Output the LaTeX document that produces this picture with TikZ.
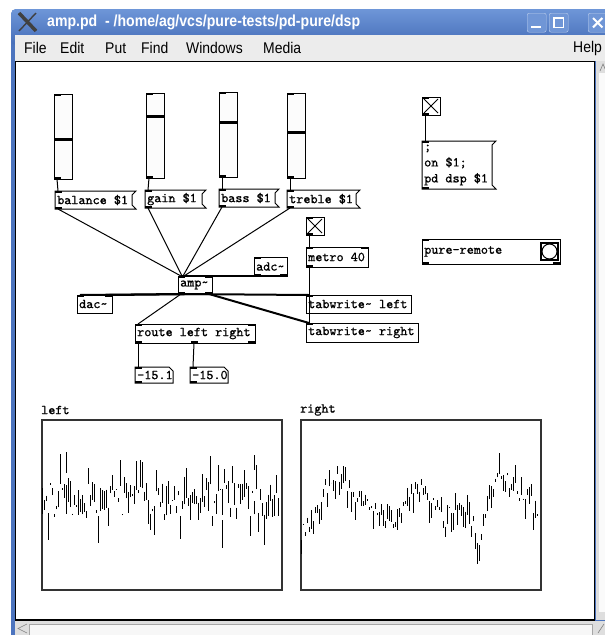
\documentclass[tikz,border=0pt]{standalone}
\usepackage{fontspec}
\setmainfont{Liberation Sans}
\newfontfamily\pdff{lmmono10-regular.otf}[FakeBold=0.9]
\usetikzlibrary{calc}
\definecolor{tbtop}{RGB}{110,150,216}
\definecolor{tbbot}{RGB}{70,110,184}
\definecolor{winblue}{RGB}{76,116,190}
\definecolor{menubg}{RGB}{236,236,236}
\definecolor{sbar}{RGB}{222,222,222}
\definecolor{btnblue}{RGB}{112,150,214}
\newcommand\pdf{\pdff\fontsize{13.5}{16}\selectfont}
\tikzset{
  pdobj/.style={draw, line width=1pt, fill=white, anchor=north west, inner sep=0pt, outer sep=0pt},
  pdmsg/.style={fill=white, anchor=north west, inner sep=0pt, outer sep=0pt},
  pdlabel/.style={anchor=west, inner sep=0pt, font=\pdf, align=left},
  ctl/.style={line width=1pt},
  sig/.style={line width=2pt},
  wave/.style={line width=1.1pt},
  menu/.style={anchor=west, inner sep=0pt},
  winbtn/.style={draw=white!55!btnblue, fill=btnblue, rounded corners=2pt, minimum width=19pt, minimum height=19pt, anchor=north west, inner sep=0pt},
}
\newcommand\mfont{\fontsize{15.5}{17}\selectfont}
\newcommand\mtext[1]{\scalebox{0.9}[1]{\mfont #1}}
\newcommand\pdo[6]{\node[pdobj,minimum width=#4pt,minimum height=#5pt] (#1) at (#2,#3) {};
  \node[pdlabel] (#1t) at ($(#1.west)+(2,0)$) {#6};}
\newcommand\pdm[6]{\node[pdmsg,minimum width=#4pt,minimum height=#5pt] (#1) at (#2,#3) {};
  \draw[line width=1pt] (#1.north west) -- ($(#1.north east)+(4,0)$) -- ($(#1.north east)+(0,4)$) -- ($(#1.south east)+(0,-4)$) -- ($(#1.south east)+(4,0)$) -- (#1.south west) -- cycle;
  \node[pdlabel] (#1t) at ($(#1.west)+(2,0)$) {#6};}
\newcommand\pdn[6]{\node[pdmsg,minimum width=#4pt,minimum height=#5pt] (#1) at (#2,#3) {};
  \draw[line width=1pt] (#1.north west) -- ($(#1.north east)+(-4,0)$) -- ($(#1.north east)+(0,4)$) -- (#1.south east) -- (#1.south west) -- cycle;
  \node[pdlabel] (#1t) at ($(#1.west)+(2,0)$) {#6};}
\newcommand\inl[2]{\fill ($(#1.north west)+(#2,0)$) rectangle ++(7,2);}
\newcommand\outl[2]{\fill ($(#1.south west)+(#2,0)$) rectangle ++(7,-2);}
\newcommand\slider[4]{\node[pdobj,minimum width=18pt,minimum height=85pt,fill=white!98!gray] (#1) at (#2,#3) {};
  \draw[line width=3pt] ($(#1.north west)+(0,#4)$) -- ($(#1.north east)+(0,#4)$);
  \inl{#1}{0}\outl{#1}{0}}
\newcommand\tgl[3]{\node[pdobj,minimum width=18pt,minimum height=18pt] (#1) at (#2,#3) {};
  \draw[line width=0.8pt] ($(#1.north west)+(2,2)$) -- ($(#1.south east)+(-2,-2)$);
  \draw[line width=0.8pt] ($(#1.north east)+(-2,2)$) -- ($(#1.south west)+(2,-2)$);
  \inl{#1}{0}\outl{#1}{0}}
\begin{document}
\begin{tikzpicture}[x=1pt,y=-1pt]
\useasboundingbox (0,0) rectangle (605,635);
\clip (0,0) rectangle (605,635);
\fill[white] (0,0) rectangle (605,635);
% window frame
\fill[winblue, rounded corners=5pt] (11,9) rectangle (640,660);
\shade[top color=tbtop, bottom color=tbbot, rounded corners=5pt] (11,9) rectangle (640,45);
\fill[menubg] (15,35) rectangle (605,61);
% X logo
\draw[black!75, line width=3.5pt] (19,13) -- (36,31);
\draw[black!75, line width=1.4pt] (36,13) -- (19,31);
\node[anchor=west, inner sep=0pt, text=white] (title) at (47,22) {\scalebox{0.88}[1]{\bfseries\fontsize{16}{18}\selectfont amp.pd\ \ - /home/ag/vcs/pure-tests/pd-pure/dsp}};
% buttons
\node[winbtn] (bmin) at (527,13) {};
\draw[white, line width=2pt] ($(bmin.south west)+(4,-5)$) -- ($(bmin.south east)+(-5,-5)$);
\node[winbtn] (bmax) at (549,13) {};
\draw[white, line width=1.2pt] ($(bmax.north west)+(5,5)$) rectangle ($(bmax.south east)+(-5,-5)$);
\node[winbtn] (bcls) at (588,13) {};
\draw[white, line width=2pt] ($(bcls.north west)+(5,5)$) -- ($(bcls.south east)+(-5,-5)$);
\draw[white, line width=2pt] ($(bcls.north east)+(-5,5)$) -- ($(bcls.south west)+(5,-5)$);
% menu
\node[menu] (mfile) at (24,48) {\mtext{File}};
\node[menu] (medit) at (60,48) {\mtext{Edit}};
\node[menu] (mput) at (105,48) {\mtext{Put}};
\node[menu] (mfind) at (141,48) {\mtext{Find}};
\node[menu] (mwin) at (186,48) {\mtext{Windows}};
\node[menu] (mmedia) at (263,48) {\mtext{Media}};
\node[menu] (mhelp) at (573,48) {\mtext{Help}};
% canvas
\fill[white] (15,61) rectangle (595,620);
\draw[black, line width=1pt] (15.5,619.5) -- (15.5,61.5) -- (595,61.5);
\draw[black, line width=1.6pt] (594.5,61) -- (594.5,620) -- (15,620);
% scrollbars
\fill[sbar] (596,61) rectangle (605,620);
\fill[white!96!gray] (599,73) rectangle (605,612);
\draw[gray, line width=0.6pt] (600,71) -- (603,64) -- (606,71);
\fill[sbar] (15,621) rectangle (605,635);
\fill[white!94!gray] (29,624) rectangle (592,635);
\draw[gray!70, line width=0.6pt] (29,635) -- (29,624) -- (592,624) -- (592,635);
\draw[gray, line width=0.6pt] (27,624) -- (18,628.5) -- (27,633);
\draw[gray, line width=0.6pt] (598,633) -- (604,624);

% ---------- pd patch ----------
\slider{sl1}{54}{94}{45}
\slider{sl2}{146}{93}{23}
\slider{sl3}{219}{92}{30}
\slider{sl4}{287}{93}{39}

\pdm{bal}{55}{191}{77}{18}{balance \$1}
\pdm{gain}{145}{190}{57}{18}{gain \$1}
\pdm{bass}{219}{189}{56}{18}{bass \$1}
\pdm{treb}{287}{190}{69}{18}{treble \$1}
\inl{bal}{0}\outl{bal}{0}
\inl{gain}{0}\outl{gain}{0}
\inl{bass}{0}\outl{bass}{0}
\inl{treb}{0}\outl{treb}{0}

\pdo{adc}{254}{257}{33}{19}{adc\char`\~}
\pdo{amp}{178}{276}{34}{18}{amp\char`\~}
\pdo{dac}{77}{295}{35}{18}{dac\char`\~}
\tgl{tg2}{306}{217}
\pdo{metro}{306}{247}{62}{20}{metro 40}
\pdo{twl}{306}{295}{105}{18}{tabwrite\char`\~\ left}
\pdo{twr}{306}{323}{112}{19}{tabwrite\char`\~\ right}
\pdo{route}{135}{324}{120}{19}{route left right}
\pdn{num1}{135}{367}{38}{16}{-15.1}
\pdn{num2}{190}{367}{38}{16}{-15.0}

\inl{adc}{0}\outl{adc}{0}\outl{adc}{26}
\inl{amp}{0}\inl{amp}{27}\outl{amp}{0}\outl{amp}{27}
\inl{dac}{0}\inl{dac}{28}
\inl{metro}{0}\inl{metro}{55}\outl{metro}{0}
\inl{twl}{0}\inl{twr}{0}
\inl{route}{0}\inl{route}{113}\outl{route}{0}\outl{route}{56}\outl{route}{113}
\inl{num1}{0}\outl{num1}{0}\inl{num2}{0}\outl{num2}{0}

% top right
\tgl{tg1}{422}{97}
\node[pdmsg,minimum width=70pt,minimum height=48pt] (dsp) at (422,141) {};
\draw[line width=1pt] (dsp.north west) -- ($(dsp.north east)+(4,0)$) -- ($(dsp.north east)+(0,4)$) -- ($(dsp.south east)+(0,-4)$) -- ($(dsp.south east)+(4,0)$) -- (dsp.south west) -- cycle;
\node[pdlabel] (dspt) at ($(dsp.west)+(2,0)$) {;\\on \$1;\\pd dsp \$1};
\inl{dsp}{0}\outl{dsp}{0}
\pdo{prem}{422}{239}{138}{25}{pure-remote}
\inl{prem}{0}\outl{prem}{0}\outl{prem}{131}
\node[draw, line width=2pt, minimum size=17pt, anchor=north west, inner sep=0pt] (bng) at (540,242) {};
\node[circle, draw, line width=1pt, minimum size=15pt, inner sep=0pt] (bngc) at (bng.center) {};

% connections
\draw[ctl] ($(sl1.south west)+(3,0)$) -- ($(bal.north west)+(3,0)$);
\draw[ctl] ($(sl2.south west)+(3,0)$) -- ($(gain.north west)+(3,0)$);
\draw[ctl] ($(sl3.south west)+(3,0)$) -- ($(bass.north west)+(3,0)$);
\draw[ctl] ($(sl4.south west)+(3,0)$) -- ($(treb.north west)+(3,0)$);
\draw[ctl] ($(bal.south west)+(3,0)$) -- ($(amp.north west)+(3,0)$);
\draw[ctl] ($(gain.south west)+(3,0)$) -- ($(amp.north west)+(4,0)$);
\draw[ctl] ($(bass.south west)+(3,0)$) -- ($(amp.north west)+(5,0)$);
\draw[ctl] ($(treb.south west)+(3,0)$) -- ($(amp.north west)+(6,0)$);
\draw[sig] ($(adc.south west)+(3,0)$) -- ($(amp.north west)+(3,0)$);
\draw[sig] ($(adc.south east)+(-3,0)$) -- ($(amp.north east)+(-3,0)$);
\draw[sig] ($(amp.south west)+(3,0)$) -- ($(dac.north west)+(3,0)$);
\draw[sig] ($(amp.south east)+(-3,0)$) -- ($(dac.north east)+(-3,0)$);
\draw[sig] ($(amp.south west)+(3,0)$) -- ($(twl.north west)+(3,0)$);
\draw[sig] ($(amp.south east)+(-3,0)$) -- ($(twr.north west)+(3,0)$);
\draw[ctl] ($(amp.south west)+(3,0)$) -- ($(route.north west)+(3,0)$);
\draw[ctl] ($(route.south west)+(3,0)$) -- ($(num1.north west)+(3,0)$);
\draw[ctl] ($(route.south west)+(59,0)$) -- ($(num2.north west)+(3,0)$);
\draw[ctl] ($(tg2.south west)+(3,0)$) -- ($(metro.north west)+(3,0)$);
\draw[ctl] ($(metro.south west)+(3,0)$) -- ($(twl.north west)+(3,0)$);
\draw[ctl] ($(metro.south west)+(3,0)$) -- ($(twr.north west)+(3,0)$);
\draw[ctl] ($(tg1.south west)+(3,0)$) -- ($(dsp.north west)+(3,0)$);

% graphs
\node[pdlabel] (lleft) at (41,410) {left};
\node[pdlabel] (lright) at (300,410) {right};
\node[draw=black!80, line width=1.5pt, minimum width=240pt, minimum height=170pt, anchor=north west, inner sep=0pt] (gl) at (41,419) {};
\node[draw=black!80, line width=1.5pt, minimum width=240pt, minimum height=170pt, anchor=north west, inner sep=0pt] (gr) at (300,419) {};

\pgfmathsetseed{4711}
\foreach \i in {0,...,118}{
  \pgfmathsetmacro\xx{42.5+2*\i}
  \pgfmathsetmacro\ya{500+17*rand}
  \pgfmathsetmacro\yb{\ya+30*rand}
  \draw[wave] (\xx,\ya) -- (\xx,\yb);
}
\draw[wave] (66.5,452) -- (66.5,473);
\draw[wave] (254.5,455) -- (254.5,470);
\draw[wave] (222.5,520) -- (222.5,548);

\def\rk{{535,515,490,472,488,500,505,512,530,490,487,500,522,505,512,545,485,476,490,500,510}}
\foreach \i in {0,...,118}{
  \pgfmathsetmacro\xx{301.5+2*\i}
  \pgfmathsetmacro\u{\i*20/119}
  \pgfmathtruncatemacro\k{floor(\u)}
  \pgfmathsetmacro\f{\u-\k}
  \pgfmathtruncatemacro\kk{min(\k+1,20)}
  \pgfmathsetmacro\base{\rk[\k]*(1-\f)+\rk[\kk]*\f}
  \pgfmathsetmacro\ya{\base+8*rand}
  \pgfmathsetmacro\yb{\ya+22*rand}
  \draw[wave] (\xx,\ya) -- (\xx,\yb);
}
\end{tikzpicture}
\end{document}
